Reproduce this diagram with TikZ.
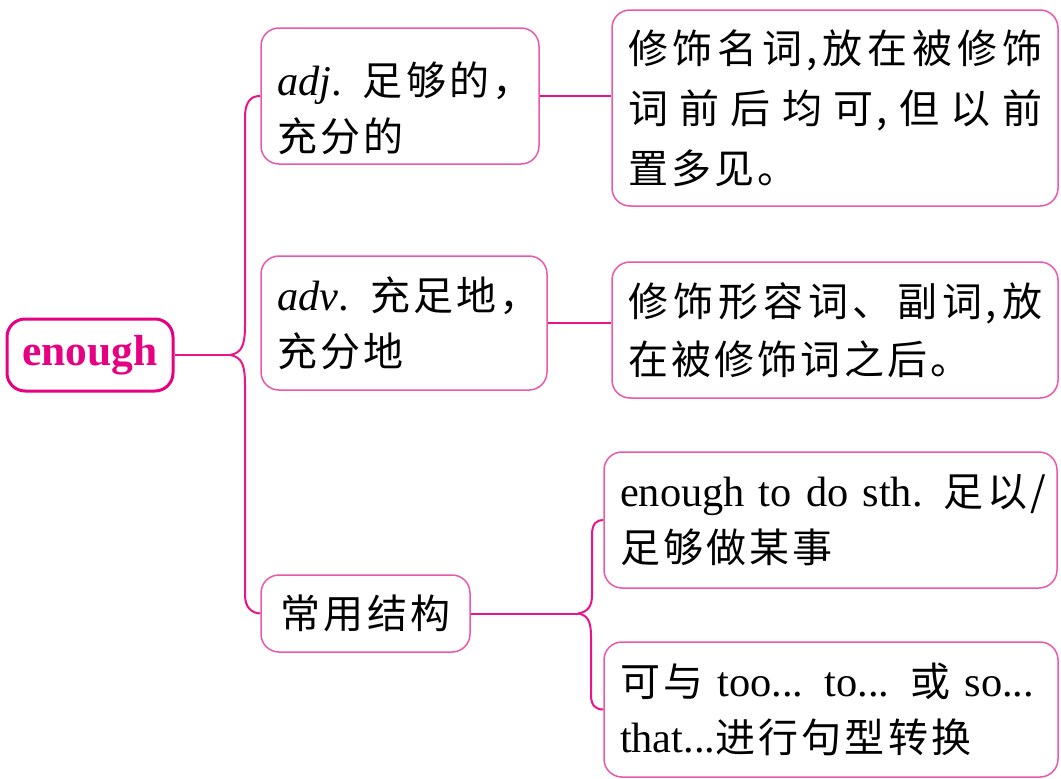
\documentclass[tikz,border=0pt]{standalone}
\usepackage{fontspec}
\setmainfont{Liberation Serif}[Scale=1.06]
\newfontfamily\cjk[LetterSpace=8]{Noto Sans CJK SC}
\usepackage{tikz}
\definecolor{boxpink}{RGB}{236,88,168}
\definecolor{linkpink}{RGB}{232,20,140}
\definecolor{rootpink}{RGB}{230,0,130}
\newcommand{\fullline}[1]{\makebox[414pt][s]{\cjk #1}}
\tikzset{
  box/.style={draw=boxpink, line width=1.5pt, rounded corners=18pt, align=left,
    inner xsep=16pt, inner ysep=0pt, font=\fontsize{40}{56}\selectfont},
  link/.style={linkpink, line width=2pt},
}

\begin{document}
\begin{tikzpicture}[x=1pt,y=-1pt]
      \useasboundingbox (0,0) rectangle (1061,779);

      \node[draw=rootpink, line width=3pt, rounded corners=18pt, minimum width=166pt,
        minimum height=72pt, text=rootpink, font=\bfseries\fontsize{41}{41}\selectfont]
        (enough) at (90,355) {enough};

      \node[box, text width=246pt, minimum height=136pt] (adj) at (400,96)
        {\mbox{\rule{0pt}{58pt}\textit{adj}. {\cjk 足够的，}}\\{\cjk 充分的}};
      \node[box, text width=254pt, minimum height=134pt] (adv) at (404,323)
        {\mbox{\textit{adv}. {\cjk 充足地，}}\\{\cjk 充分地}};
      \node[box, minimum width=209pt, minimum height=77pt] (struct) at (365.5,613.5)
        {{\cjk 常用结构}};

      \node[box, text width=414pt, minimum height=196pt,
        font=\fontsize{40}{60}\selectfont] (place1) at (835,108)
        {\fullline{修\hfil 饰\hfil 名\hfil 词,\hfil 放\hfil 在\hfil 被\hfil 修\hfil 饰}\\
         \fullline{词\hfil 前\hfil 后\hfil 均\hfil 可,\hfil 但\hfil 以\hfil 前}\\{\cjk 置多见。}};
      \node[box, text width=414pt, minimum height=136pt,
        font=\fontsize{40}{58}\selectfont] (place2) at (835,330)
        {\fullline{修\hfil 饰\hfil 形\hfil 容\hfil 词、\hfil 副\hfil 词,\hfil 放}\\{\cjk 在被修饰词之后。}};

      \node[box, text width=421pt, minimum height=136pt] (use1) at (830.5,520)
        {\mbox{enough to do sth. {\cjk 足以/}}\\{\cjk 足够做某事}};
      \node[box, text width=422pt, minimum height=135pt] (use2) at (831,709.5)
        {\makebox[422pt][s]{{\cjk 可与} too... to... {\cjk 或} so...}\\that...{\cjk 进行句型转换}};

      \coordinate (J1) at (230,355);
      \coordinate (J2) at (578,613.5);

      \draw[link] (enough.east) -- (J1);
      \draw[link] (J1) .. controls (242,353) and (245,345) .. (245,325)
        -- (245,118) .. controls (245,100) and (252,96) .. (adj.west);
      \draw[link] (J1) .. controls (242,357) and (245,365) .. (245,385)
        -- (245,595) .. controls (245,608) and (252,613) .. (struct.west);

      \draw[link] (adj.east) -- (adj.east -| place1.west);
      \draw[link] (adv.east) -- (adv.east -| place2.west);

      \draw[link] (struct.east) -- (J2);
      \draw[link] (J2) .. controls (588,612) and (592,606) .. (592,595)
        -- (592,535) .. controls (592,523) and (597,520) .. (use1.west);
      \draw[link] (J2) .. controls (588,615) and (591,622) .. (591,636)
        -- (591,695) .. controls (591,706) and (596,709.5) .. (use2.west);
    \end{tikzpicture}
\end{document}
